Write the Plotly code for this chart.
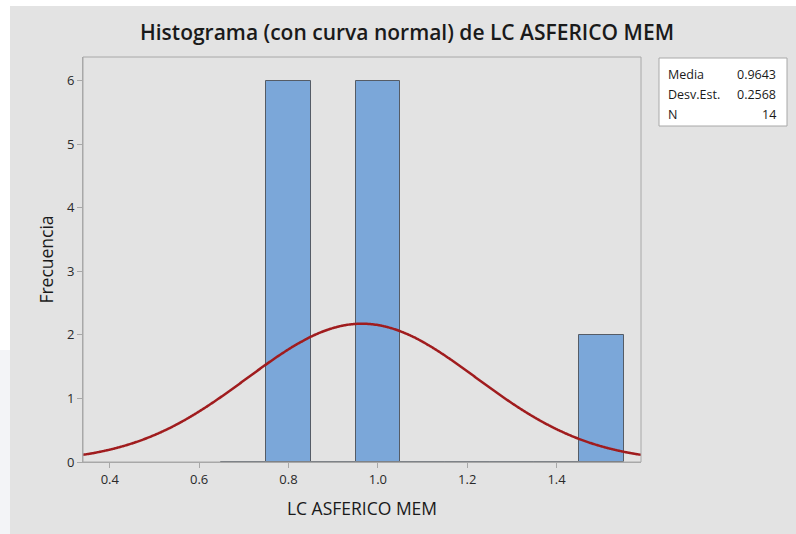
import numpy as np
import plotly.graph_objects as go

# Histogram bins (midpoints, width 0.1) and counts
bin_mids = [0.7, 0.8, 0.9, 1.0, 1.1, 1.2, 1.3, 1.4, 1.5]
counts = [0, 6, 0, 6, 0, 0, 0, 0, 2]
bin_width = 0.1

# Summary statistics shown in the stats box
media = 0.9643
desv_est = 0.2568
n_obs = 14
stat_labels = ["Media", "Desv.Est.", "N"]
stat_values = ["0.9643", "0.2568", "14"]

x_ticks = [0.4, 0.6, 0.8, 1.0, 1.2, 1.4]
x_tick_text = ["0.4", "0.6", "0.8", "1.0", "1.2", "1.4"]
y_ticks = [0, 1, 2, 3, 4, 5, 6]

W, H = 796, 534
L, R, T, B = 83, 641, 57, 462  # plot area in pixels


def px(xp):
    return (xp - L) / (R - L)


def py(yp):
    return (B - yp) / (B - T)


# Fitted normal curve scaled to counts
xs = np.linspace(0.34, 1.589, 400)
ys = n_obs * bin_width * np.exp(-0.5 * ((xs - media) / desv_est) ** 2) / (desv_est * np.sqrt(2 * np.pi))

fig = go.Figure()
fig.add_trace(go.Bar(
    x=bin_mids, y=counts, width=bin_width,
    marker=dict(color="#7BA7D9", line=dict(color="#555C66", width=1)),
    hoverinfo="x+y",
))
fig.add_trace(go.Scatter(
    x=xs, y=ys, mode="lines",
    line=dict(color="#A01C1E", width=2.5, shape="spline"),
    hoverinfo="skip",
))

font_family = "Open Sans, Noto Sans, DejaVu Sans, sans-serif"
shapes = [
    # window background
    dict(type="rect", xref="paper", yref="paper", layer="below",
         x0=px(10), x1=px(W + 2), y0=py(W), y1=py(6),
         fillcolor="#E3E3E3", line=dict(width=0)),
    dict(type="rect", xref="paper", yref="paper", layer="below",
         x0=px(-2), x1=px(10), y0=py(H + 2), y1=py(350),
         fillcolor="#F3F4F7", line=dict(width=0)),
    # plot frame
    dict(type="rect", xref="paper", yref="paper", layer="above",
         x0=0, x1=1, y0=0, y1=1, line=dict(color="#A8A8A8", width=1)),
    # stats box
    dict(type="rect", xref="paper", yref="paper",
         x0=px(659), x1=px(787), y0=py(126), y1=py(58),
         fillcolor="white", line=dict(color="#A8A8A8", width=1)),
]

annotations = []
row_y = [75, 95, 115]
for lab, val, ry in zip(stat_labels, stat_values, row_y):
    annotations.append(dict(xref="paper", yref="paper", x=px(666), y=py(ry),
                            text=lab, showarrow=False, xanchor="left", yanchor="middle",
                            font=dict(family=font_family, size=12.5, color="#1A1A1A")))
    annotations.append(dict(xref="paper", yref="paper", x=px(778), y=py(ry),
                            text=val, showarrow=False, xanchor="right", yanchor="middle",
                            font=dict(family=font_family, size=12.5, color="#1A1A1A")))

fig.update_layout(
    width=W, height=H,
    margin=dict(l=L, r=W - R, t=T, b=H - B, pad=0),
    paper_bgcolor="white",
    plot_bgcolor="white",
    showlegend=False,
    bargap=0,
    title=dict(text="Histograma (con curva normal) de LC ASFERICO MEM",
               x=407 / W, xanchor="center", y=1 - 33 / H, yanchor="middle",
               font=dict(family=font_family, size=21, color="#1A1A1A", weight=600)),
    shapes=shapes,
    annotations=annotations,
    xaxis=dict(range=[0.34, 1.589], tickvals=x_ticks, ticktext=x_tick_text,
               showgrid=False, zeroline=False, showline=True, linecolor="#A8A8A8",
               ticks="outside", ticklen=5, tickcolor="#A8A8A8",
               tickfont=dict(family=font_family, size=13, color="#2A2A2A"),
               title=dict(text="LC ASFERICO MEM", standoff=16,
                          font=dict(family=font_family, size=17.5, color="#1A1A1A", weight=500))),
    yaxis=dict(range=[0, 6.37], tickvals=y_ticks,
               showgrid=False, zeroline=False, showline=True, linecolor="#A8A8A8",
               ticks="outside", ticklen=5, tickcolor="#A8A8A8",
               tickfont=dict(family=font_family, size=13, color="#2A2A2A"),
               title=dict(text="Frecuencia", standoff=8,
                          font=dict(family=font_family, size=17.5, color="#1A1A1A", weight=500))),
)

fig.write_html("out.html")
